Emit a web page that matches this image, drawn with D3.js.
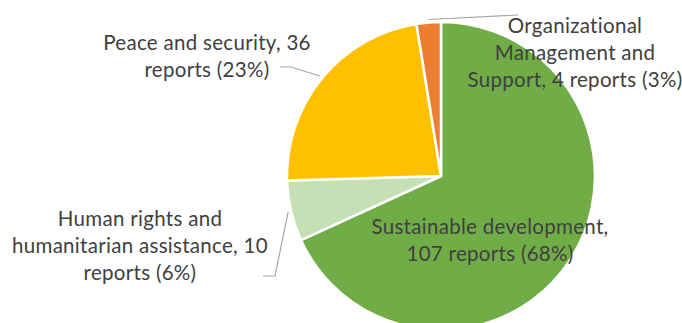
<!DOCTYPE html>
<html>
<head>
<meta charset="utf-8">
<script src="https://cdn.jsdelivr.net/npm/d3@7"></script>
<style>
  body { margin: 0; background: #fff; }
  svg text { font-family: Lato, "Open Sans", sans-serif; fill: #404040; }
</style>
</head>
<body>
<svg id="chart" width="682" height="323"></svg>
<script>
// data
const categories = ["Sustainable development", "Human rights and humanitarian assistance", "Peace and security", "Organizational Management and Support"];
const reports = [107, 10, 36, 4];
const percents = ["68%", "6%", "23%", "3%"];
const colors = ["#70AD47", "#C5E0B4", "#FFC000", "#ED7D31"];
// label text split in lines like the original
const labelLines = [
  ["Sustainable development,", "107 reports (68%)"],
  ["Human rights and", "humanitarian assistance, 10", "reports (6%)"],
  ["Peace and security, 36", "reports (23%)"],
  ["Organizational", "Management and", "Support, 4 reports (3%)"]
];

// layout
const cx = 441, cy = 176, r = 154;
const lineH = 27;
// label centre x, first baseline y, and where the leader line ends (null = inside)
const labelPos = [
  {x: 490, y: 234, leader: null},
  {x: 140, y: 226, leader: [[275, 276], [263, 276]]},
  {x: 207, y: 50, leader: [[291, 67], [280, 67]]},
  {x: 575, y: 33, leader: [[518, 15]]}
];

const svg = d3.select("#chart");
const g = svg.append("g").attr("transform", `translate(${cx},${cy})`);

const pie = d3.pie().sort(null).value(d => d);
const arcs = pie(reports);
const arc = d3.arc().innerRadius(0).outerRadius(r);
const outer = d3.arc().innerRadius(r + 3).outerRadius(r + 3);

g.selectAll(".slice")
  .data(arcs)
  .enter().append("path")
  .attr("class", "slice")
  .attr("d", arc)
  .style("fill", (d, i) => colors[i])
  .style("stroke", "#fff")
  .style("stroke-width", 2.5)
  .style("stroke-linejoin", "round");

// leader lines
arcs.forEach((d, i) => {
  const lp = labelPos[i];
  if (!lp.leader) return;
  const c = outer.centroid(d);
  const pts = [[c[0] + cx, c[1] + cy]].concat(lp.leader);
  svg.append("path")
    .attr("d", d3.line()(pts))
    .style("fill", "none")
    .style("stroke", "#A6A6A6")
    .style("stroke-width", 1.2);
});

// labels
labelLines.forEach((lines, i) => {
  const lp = labelPos[i];
  const t = svg.append("text")
    .attr("text-anchor", "middle")
    .style("font-size", "20.5px")
    .style("letter-spacing", "0.3px");
  lines.forEach((s, j) => {
    t.append("tspan").attr("x", lp.x).attr("y", lp.y + j * lineH).text(s);
  });
});
</script>
</body>
</html>
